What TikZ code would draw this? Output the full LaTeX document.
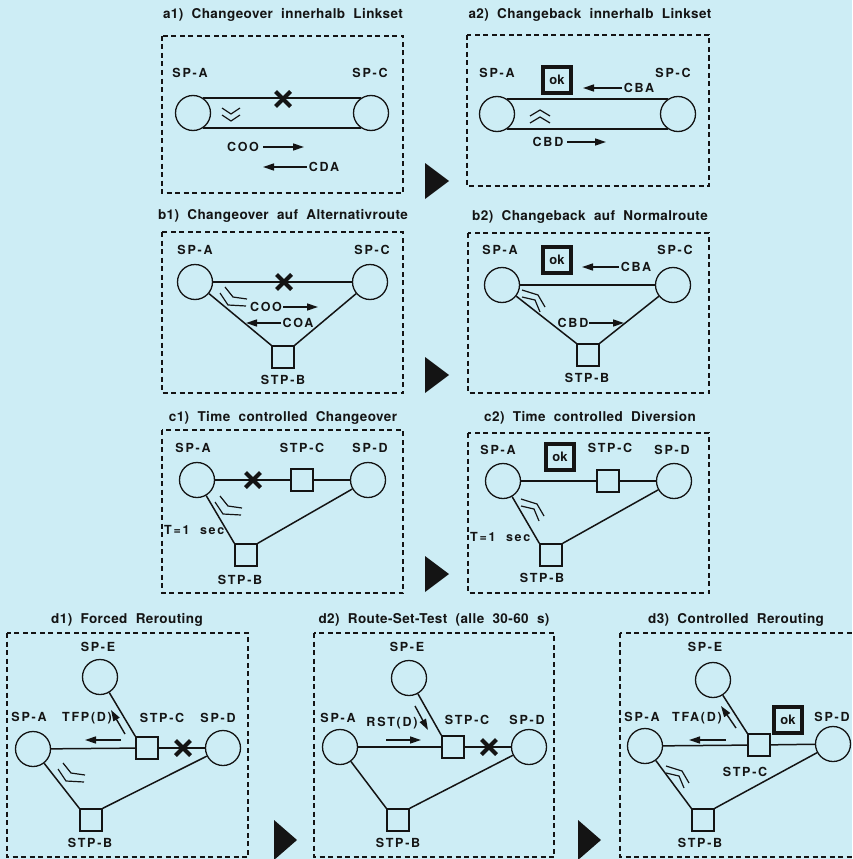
\documentclass[tikz,border=0pt]{standalone}
\usepackage{fontspec}
\setmainfont{TeX Gyre Heros}
\newfontfamily\ttlfont[LetterSpace=3,WordSpace=2.0]{TeX Gyre Heros}
\newfontfamily\lblfont[LetterSpace=14]{TeX Gyre Heros}
\usetikzlibrary{arrows.meta,shapes.misc}
\definecolor{bg}{RGB}{205,237,245}
\definecolor{ink}{RGB}{20,20,20}
\tikzset{
  chevdn/.pic={\draw[chev] (-9,0)--(0,6)--(9,0) (-9,7)--(0,13)--(9,7);},
  chevup/.pic={\draw[chev] (-10,6)--(0,0)--(10,6) (-10,13)--(0,7)--(10,13);},
  bendA/.pic={\draw[chev] (0,0)--(8,10)--(22,12) (-5,6)--(3,18)--(21,19);},
  bendB/.pic={\draw[chev] (0,0)--(16,5)--(23,17) (0,7)--(13,10)--(18,22);},
}
\begin{document}
\begin{tikzpicture}[x=1pt,y=-1pt,
  sp/.style={circle,draw=ink,line width=1.3pt,fill=bg,minimum size=35pt,inner sep=0pt},
  stp/.style={rectangle,draw=ink,line width=1.3pt,fill=bg,minimum size=22pt,inner sep=0pt},
  lbl/.style={font=\lblfont\bfseries\fontsize{12.5}{14}\selectfont,text=ink,inner sep=0pt},
  ttl/.style={font=\ttlfont\bfseries\fontsize{13.5}{15}\selectfont,text=ink,inner sep=0pt},
  okbox/.style={draw=ink,line width=3.2pt,minimum width=28pt,minimum height=26pt,inner sep=0pt,font=\bfseries\fontsize{13}{14}\selectfont,text=ink},
  panel/.style={draw=ink,line width=1.2pt,dash pattern=on 5pt off 3.5pt},
  link/.style={draw=ink,line width=1.5pt},
  msg/.style={draw=ink,line width=1.4pt,-{Triangle[length=11pt,width=7pt]}},
  brk/.style={cross out,draw=ink,line width=4pt,minimum size=11pt,inner sep=0pt},
  chev/.style={draw=ink,line width=1.2pt},
  tri/.style={fill=ink,draw=none},
]
\fill[bg] (0,0) rectangle (852,859);
\useasboundingbox (0,0) rectangle (852,859);

% ---------- a1
\draw[panel] (162,36) rectangle (403,193);
\node[ttl] (ta1) at (283,15) {a1) Changeover innerhalb Linkset};
\node[lbl] (la1A) at (190,73) {SP-A};
\node[lbl] (la1C) at (370,73) {SP-C};
\node[sp] (a1A) at (193,113) {};
\node[sp] (a1C) at (371,113) {};
\draw[link] (a1A.57) -- (a1C.123);
\draw[link] (a1A.-57) -- (a1C.-123);
\node[brk] (a1X) at (283,99) {};
\pic at (231,108) {chevdn};
\node[lbl] (a1COO) at (243,147) {COO};
\coordinate (a1COOe) at (304,147);
\draw[msg] ([xshift=4pt]a1COO.east) -- (a1COOe);
\node[lbl] (a1CDA) at (324,167) {CDA};
\coordinate (a1CDAe) at (263,167);
\draw[msg] ([xshift=-2pt]a1CDA.west) -- (a1CDAe);
\fill[tri] (425,163) -- (449,181) -- (425,199) -- cycle;

% ---------- a2
\draw[panel] (467,35) rectangle (709,186);
\node[ttl] (ta2) at (590,15) {a2) Changeback innerhalb Linkset};
\node[lbl] (la2A) at (497,73) {SP-A};
\node[lbl] (la2C) at (673,73) {SP-C};
\node[okbox] (a2ok) at (557,80) {ok};
\node[lbl] (a2CBA) at (639,88) {CBA};
\coordinate (a2CBAe) at (583,88);
\draw[msg] ([xshift=-2pt]a2CBA.west) -- (a2CBAe);
\node[sp] (a2A) at (497,114) {};
\node[sp] (a2C) at (678,114) {};
\draw[link] (a2A.57) -- (a2C.123);
\draw[link] (a2A.-57) -- (a2C.-123);
\pic at (540,110) {chevup};
\node[lbl] (a2CBD) at (548,142) {CBD};
\coordinate (a2CBDe) at (606,142);
\draw[msg] ([xshift=4pt]a2CBD.east) -- (a2CBDe);

% ---------- b1
\draw[panel] (162,232) rectangle (403,393);
\node[ttl] (tb1) at (283,216) {b1) Changeover auf Alternativroute};
\node[lbl] (lb1A) at (195,250) {SP-A};
\node[lbl] (lb1C) at (372,250) {SP-C};
\node[sp] (b1A) at (195,282) {};
\node[sp] (b1C) at (370,282) {};
\node[stp] (b1B) at (283,357) {};
\draw[link] (b1A) -- (b1C);
\draw[link] (b1A) -- (b1B.north west);
\draw[link] (b1B.north east) -- (b1C);
\node[brk] (b1X) at (284,282) {};
\node[lbl] (lb1B) at (283,380) {STP-B};
\pic at (225,287) {bendA};
\node[lbl] (b1COO) at (266,307) {COO};
\coordinate (b1COOe) at (318,307);
\draw[msg] ([xshift=1pt]b1COO.east) -- (b1COOe);
\node[lbl] (b1COA) at (298,323) {COA};
\coordinate (b1COAe) at (246,323);
\draw[msg] ([xshift=-1pt]b1COA.west) -- (b1COAe);
\fill[tri] (425,357) -- (449,375) -- (425,393) -- cycle;

% ---------- b2
\draw[panel] (468,233) rectangle (709,393);
\node[ttl] (tb2) at (590,217) {b2) Changeback auf Normalroute};
\node[lbl] (lb2A) at (500,250) {SP-A};
\node[lbl] (lb2C) at (675,250) {SP-C};
\node[okbox] (b2ok) at (557,260) {ok};
\node[lbl] (b2CBA) at (636,267) {CBA};
\coordinate (b2CBAe) at (582,267);
\draw[msg] ([xshift=-2pt]b2CBA.west) -- (b2CBAe);
\node[sp] (b2A) at (502,285) {};
\node[sp] (b2C) at (673,285) {};
\node[stp] (b2B) at (588,355) {};
\draw[link] (b2A) -- (b2C);
\draw[link] (b2A) -- (b2B.north west);
\draw[link] (b2B.north east) -- (b2C);
\node[lbl] (lb2B) at (587,378) {STP-B};
\pic at (522,290) {bendB};
\node[lbl] (b2CBD) at (573,323) {CBD};
\coordinate (b2CBDe) at (624,323);
\draw[msg] ([xshift=1pt]b2CBD.east) -- (b2CBDe);

% ---------- c1
\draw[panel] (162,430) rectangle (403,593);
\node[ttl] (tc1) at (283,418) {c1) Time controlled Changeover};
\node[lbl] (lc1A) at (193,448) {SP-A};
\node[lbl] (lc1C) at (302,448) {STP-C};
\node[lbl] (lc1D) at (370,448) {SP-D};
\node[sp] (c1A) at (197,480) {};
\node[stp] (c1C) at (302,480) {};
\node[sp] (c1D) at (368,480) {};
\node[stp] (c1B) at (246,555) {};
\draw[link] (c1A) -- (c1C);
\draw[link] (c1C) -- (c1D);
\draw[link] (c1A) -- (c1B.north west);
\draw[link] (c1B.north east) -- (c1D);
\node[brk] (c1X) at (253,480) {};
\node[lbl] (lc1B) at (240,580) {STP-B};
\node[lbl,anchor=west] (c1T) at (164,530) {T=1\ \ sec};
\pic at (220,496) {bendA};
\fill[tri] (425,556) -- (449,574) -- (425,592) -- cycle;

% ---------- c2
\draw[panel] (468,433) rectangle (709,593);
\node[ttl] (tc2) at (590,418) {c2) Time controlled Diversion};
\node[lbl] (lc2A) at (498,450) {SP-A};
\node[lbl] (lc2C) at (610,448) {STP-C};
\node[lbl] (lc2D) at (672,450) {SP-D};
\node[okbox] (c2ok) at (560,457) {ok};
\node[sp] (c2A) at (503,481) {};
\node[stp] (c2C) at (608,481) {};
\node[sp] (c2D) at (674,481) {};
\node[stp] (c2B) at (551,555) {};
\draw[link] (c2A) -- (c2C);
\draw[link] (c2C) -- (c2D);
\draw[link] (c2A) -- (c2B.north west);
\draw[link] (c2B.north east) -- (c2D);
\node[lbl] (lc2B) at (542,578) {STP-B};
\node[lbl,anchor=west] (c2T) at (470,537) {T=1\ \ sec};
\pic at (521,499) {bendB};

% ---------- d1
\draw[panel] (7,633) rectangle (248,857);
\node[ttl] (td1) at (127,620) {d1) Forced Rerouting};
\node[lbl] (ld1E) at (98,647) {SP-E};
\node[lbl] (ld1A) at (29,717) {SP-A};
\node[lbl] (d1TFP) at (87,718) {TFP(D)};
\node[lbl] (ld1C) at (162,718) {STP-C};
\node[lbl] (ld1D) at (218,718) {SP-D};
\node[sp] (d1E) at (100,677) {};
\node[sp] (d1A) at (33,749) {};
\node[stp] (d1C) at (147,748) {};
\node[sp] (d1D) at (223,748) {};
\node[stp] (d1B) at (91,820) {};
\draw[link] (d1A) -- (d1C);
\draw[link] (d1C) -- (d1D);
\draw[link] (d1E) -- (d1C.north west);
\draw[link] (d1A) -- (d1B.north west);
\draw[link] (d1B.north east) -- (d1D);
\node[brk] (d1X) at (183,748) {};
\coordinate (d1m1s) at (121,740);
\coordinate (d1m1e) at (85,740);
\draw[msg] (d1m1s) -- (d1m1e);
\coordinate (d1m2s) at (125,734);
\coordinate (d1m2e) at (111,710);
\draw[msg] (d1m2s) -- (d1m2e);
\node[lbl] (ld1B) at (90,843) {STP-B};
\pic at (63,763) {bendA};
\fill[tri] (274,820) -- (297,840) -- (274,860) -- cycle;

% ---------- d2
\draw[panel] (314,633) rectangle (554,857);
\node[ttl] (td2) at (434,620) {d2) Route-Set-Test (alle 30-60 s)};
\node[lbl] (ld2E) at (407,647) {SP-E};
\node[lbl] (ld2A) at (338,718) {SP-A};
\node[lbl] (d2RST) at (392,723) {RST(D)};
\node[lbl] (ld2C) at (467,720) {STP-C};
\node[lbl] (ld2D) at (527,720) {SP-D};
\node[sp] (d2E) at (409,678) {};
\node[sp] (d2A) at (340,747) {};
\node[stp] (d2C) at (453,747) {};
\node[sp] (d2D) at (529,747) {};
\node[stp] (d2B) at (398,820) {};
\draw[link] (d2A) -- (d2C);
\draw[link] (d2C) -- (d2D);
\draw[link] (d2E) -- (d2C.north west);
\draw[link] (d2A) -- (d2B.north west);
\draw[link] (d2B.north east) -- (d2D);
\node[brk] (d2X) at (489,747) {};
\coordinate (d2m1s) at (386,740);
\coordinate (d2m1e) at (421,740);
\draw[msg] (d2m1s) -- (d2m1e);
\coordinate (d2m2s) at (415,706);
\coordinate (d2m2e) at (428,730);
\draw[msg] (d2m2s) -- (d2m2e);
\node[lbl] (ld2B) at (398,843) {STP-B};
\fill[tri] (578,820) -- (601,840) -- (578,860) -- cycle;

% ---------- d3
\draw[panel] (620,633) rectangle (856,857);
\node[ttl] (td3) at (736,620) {d3) Controlled Rerouting};
\node[lbl] (ld3E) at (705,647) {SP-E};
\node[lbl] (ld3A) at (642,717) {SP-A};
\node[lbl] (d3TFA) at (697,718) {TFA(D)};
\node[okbox] (d3ok) at (788,720) {ok};
\node[lbl] (ld3D) at (832,717) {SP-D};
\node[sp] (d3E) at (713,680) {};
\node[sp] (d3A) at (645,746) {};
\node[stp] (d3C) at (759,745) {};
\node[sp] (d3D) at (833,744) {};
\node[stp] (d3B) at (703,820) {};
\draw[link] (d3A) -- (d3C);
\draw[link] (d3C) -- (d3D);
\draw[link] (d3E) -- (d3C.north west);
\draw[link] (d3A) -- (d3B.north west);
\draw[link] (d3B.north east) -- (d3D);
\node[lbl] (ld3C) at (745,772) {STP-C};
\coordinate (d3m1s) at (726,740);
\coordinate (d3m1e) at (689,740);
\draw[msg] (d3m1s) -- (d3m1e);
\coordinate (d3m2s) at (736,728);
\coordinate (d3m2e) at (721,706);
\draw[msg] (d3m2s) -- (d3m2e);
\node[lbl] (ld3B) at (700,843) {STP-B};
\pic at (666,766) {bendB};
\end{tikzpicture}
\end{document}
